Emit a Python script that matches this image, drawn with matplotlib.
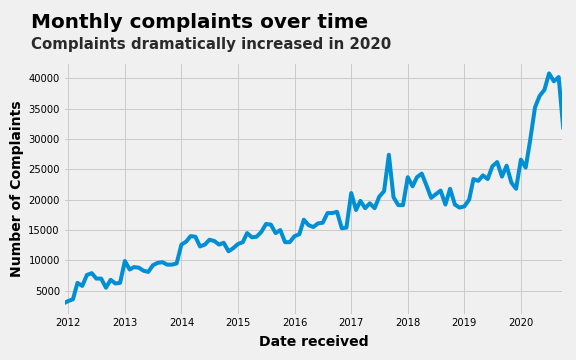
import numpy as np
import pandas as pd
import matplotlib
matplotlib.use('Agg')
from matplotlib import pyplot as plt
import matplotlib.dates as mdates

# monthly complaint counts, Dec 2011 .. Oct 2020
months = pd.date_range('2011-12-01', periods=107, freq='MS')
counts = [2900,
          3300, 3600, 6300, 5800, 7600, 7900, 7000, 7000, 5500, 6800, 6200, 6300,
          9900, 8500, 8900, 8800, 8300, 8100, 9200, 9600, 9700, 9300, 9300, 9500,
          12600, 13100, 14000, 13900, 12300, 12600, 13400, 13200, 12600, 12900, 11500, 12000,
          12700, 13000, 14500, 13800, 13900, 14700, 16000, 15900, 14500, 15000, 13000, 13000,
          14000, 14300, 16700, 15800, 15500, 16100, 16200, 17800, 17800, 18000, 15300, 15400,
          21100, 18300, 19800, 18600, 19400, 18600, 20500, 21400, 27400, 20400, 19100, 19100,
          23700, 22200, 23700, 24300, 22400, 20300, 20900, 21500, 19200, 21800, 19200, 18700,
          18900, 20000, 23400, 23100, 24000, 23400, 25500, 26200, 23800, 25600, 22800, 21800,
          26600, 25300, 29800, 35200, 37100, 38100, 40800, 39500, 40200, 31600]

title = 'Monthly complaints over time'
subtitle = 'Complaints dramatically increased in 2020'

plt.style.use('fivethirtyeight')

fig = plt.figure(figsize=(8, 5), dpi=72)
ax = fig.add_axes([0.110, 0.125, 0.868, 0.703])

ax.plot(months, counts, color='#008fd5', linewidth=4, solid_capstyle='butt')
ax.set_xlim(months[0], months[-1])

ax.xaxis.set_major_locator(mdates.YearLocator())
ax.xaxis.set_major_formatter(mdates.DateFormatter('%Y'))
ax.set_yticks(np.arange(5000, 40001, 5000))
ax.tick_params(labelsize=10)

ax.set_xlabel('Date received', fontsize=14, fontweight='bold', labelpad=6)
ax.set_ylabel('Number of Complaints', fontsize=14, fontweight='bold', labelpad=4)

fig.text(31 / 576, 1 - 22 / 360, title, fontsize=20, fontweight='bold',
         va='center', ha='left')
fig.text(31 / 576, 1 - 44 / 360, subtitle, fontsize=15, fontweight='bold',
         va='center', ha='left', color='#2a2a2a')

plt.savefig('out.png', dpi=72, facecolor=fig.get_facecolor())
